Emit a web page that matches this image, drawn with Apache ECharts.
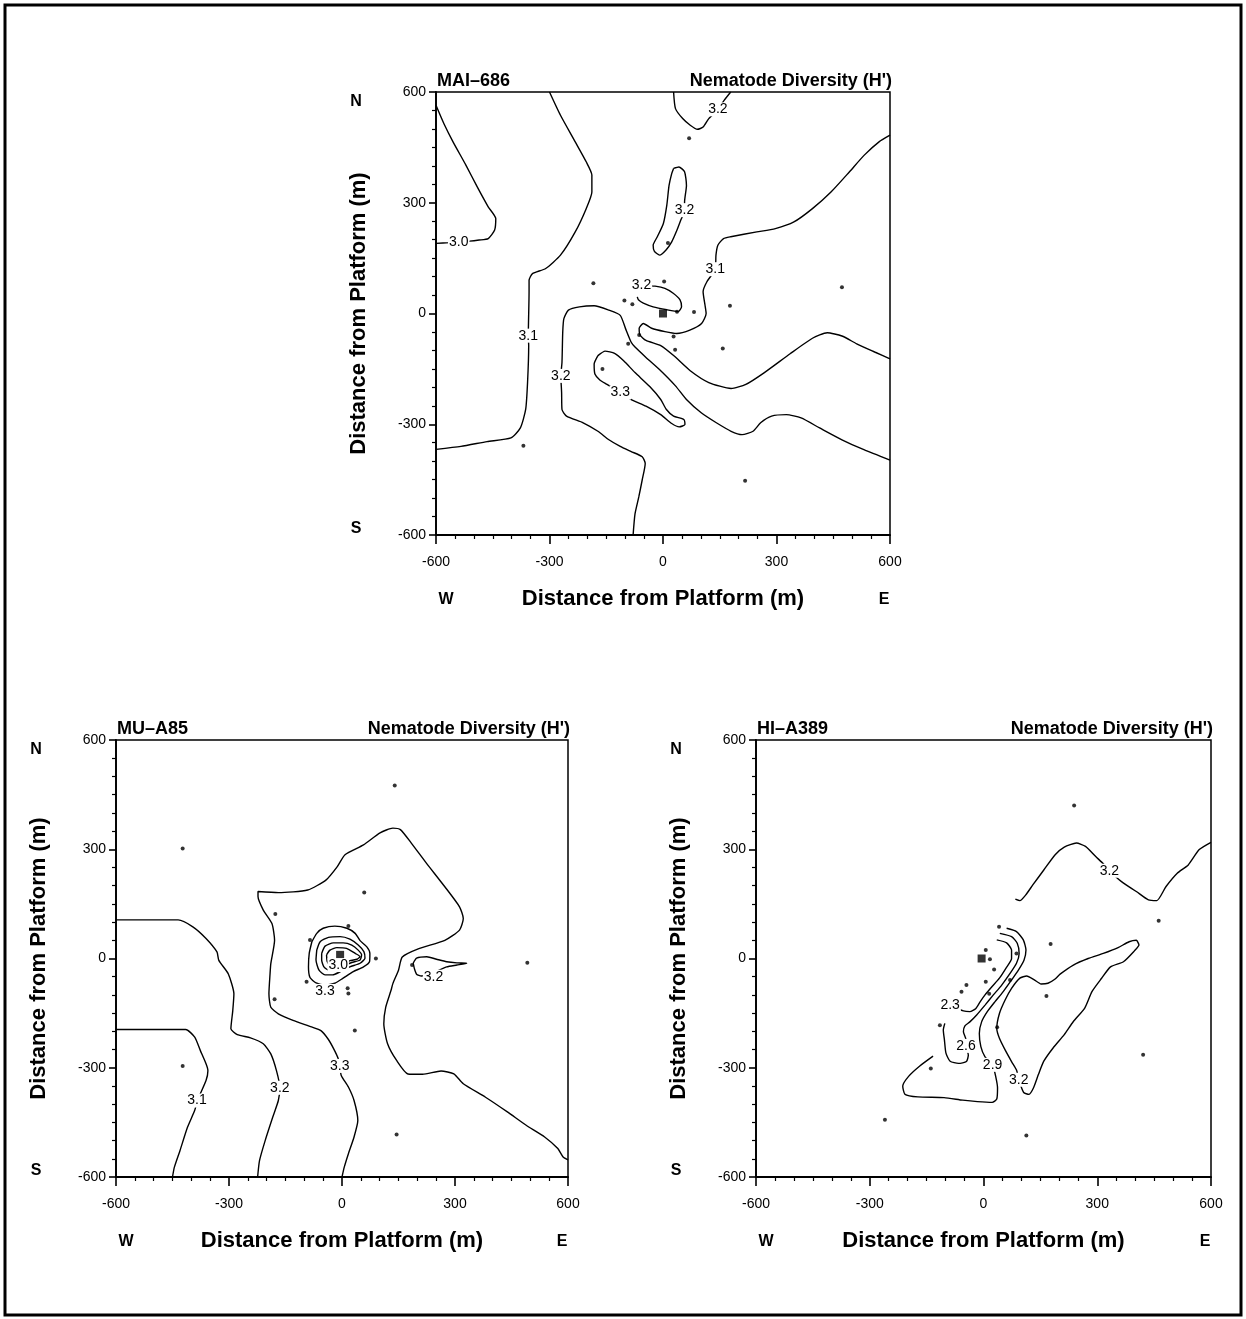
<!DOCTYPE html>
<html>
<head>
<meta charset="utf-8">
<script src="https://cdn.jsdelivr.net/npm/echarts@6/dist/echarts.min.js"></script>
<style>
  html, body { margin: 0; padding: 0; background: #fff; }
  #chart { width: 1246px; height: 1319px; }
</style>
</head>
<body>
<div id="chart"></div>
<script>
// axis ticks (m from platform)
const tickMin = -600
const tickMax = 600
const tickStep = 300

// ---- MAI-686 (top) ----
const mai30 = [[-600,564],[-579,514],[-555,465],[-521,402],[-491,343],[-462,289],[-442,257],[-445,226],[-462,203],[-486,199],[-511,196],[-565,192],[-600,190]]
const mai31West = [[-300,600],[-271,537],[-232,465],[-203,411],[-188,375],[-188,329],[-203,284],[-232,221],[-271,158],[-310,122],[-345,108],[-354,90],[-354,59],[-356,-59],[-355,-87],[-358,-187],[-363,-260],[-377,-310],[-402,-337],[-465,-347],[-534,-360],[-600,-368]]
const mai31East = [[600,483],[571,465],[532,429],[493,384],[444,329],[395,284],[346,248],[297,230],[248,221],[179,208],[160,203],[145,185],[140,158],[138,120],[116,86],[106,59],[111,23],[114,0],[102,-27],[71,-45],[36,-54],[5,-49],[-30,-40],[-52,-27],[-63,-40],[-61,-58],[-45,-73],[-6,-87],[28,-114],[72,-155],[121,-187],[180,-203],[219,-192],[268,-160],[336,-109],[395,-67],[434,-52],[473,-61],[512,-82],[561,-105],[600,-123]]
const mai32West = [[-79,-600],[-74,-543],[-64,-497],[-55,-451],[-47,-406],[-55,-388],[-84,-374],[-113,-360],[-143,-342],[-172,-319],[-211,-296],[-255,-278],[-267,-260],[-268,-214],[-270,-169],[-267,-132],[-265,-50],[-262,-14],[-250,9],[-221,18],[-182,21],[-143,9],[-113,-5],[-99,-41],[-84,-78],[-74,-91],[-45,-119],[-6,-155],[33,-196],[62,-233],[101,-269],[141,-296],[180,-319],[209,-328],[238,-319],[258,-296],[287,-278],[326,-274],[365,-283],[414,-310],[473,-342],[531,-369],[600,-397]]
const mai33 = [[-172,-114],[-182,-137],[-180,-164],[-167,-180],[-148,-192],[-113,-214],[-84,-233],[-45,-251],[-6,-274],[23,-298],[43,-307],[58,-301],[55,-287],[28,-278],[9,-260],[-6,-233],[-35,-198],[-74,-160],[-104,-128],[-128,-108],[-153,-102],[-172,-114]]
const mai32Isle = [[28,393],[42,397],[57,384],[62,347],[57,302],[57,280],[47,253],[37,226],[23,194],[8,172],[-9,158],[-23,169],[-26,185],[-15,208],[1,244],[10,293],[16,347],[23,379],[28,393]]
const mai32North = [[28,600],[33,555],[52,528],[72,510],[91,499],[106,505],[121,528],[145,553],[162,578],[179,600]]
const mai32Centre = [[-56,77],[-21,74],[5,68],[27,55],[45,37],[49,18],[40,5],[10,10],[-26,18],[-52,28],[-65,37],[-68,45]]
const maiLabels = [[-540,193,'3.0'],[-356,-60,'3.1'],[-270,-169,'3.2'],[-113,-214,'3.3'],[57,280,'3.2'],[145,553,'3.2'],[-57,77,'3.2'],[138,120,'3.1']]
const maiStations = [[69,475],[13,191],[-184,82],[3,87],[-102,35],[-81,25],[37,5],[82,4],[177,21],[473,71],[28,-62],[-63,-58],[-92,-82],[32,-98],[158,-95],[-160,-150],[-369,-358],[217,-453]]
const maiPlatform = [[0,0]]

// ---- MU-A85 (bottom left) ----
const mu31 = [[-600,-195],[-415,-195],[-391,-216],[-376,-253],[-361,-289],[-356,-308],[-361,-335],[-384,-390],[-391,-417],[-410,-463],[-430,-527],[-445,-573],[-450,-600]]
const mu32 = [[-600,106],[-435,106],[-396,87],[-361,55],[-332,18],[-327,-5],[-302,-42],[-287,-97],[-290,-143],[-295,-193],[-278,-209],[-243,-218],[-209,-234],[-189,-262],[-174,-308],[-165,-355],[-169,-390],[-184,-436],[-204,-500],[-219,-555],[-224,-600]]
const mu33 = [[0,-600],[6,-573],[17,-536],[32,-490],[42,-445],[32,-390],[17,-353],[-2,-321],[-6,-295],[-10,-275],[-22,-248],[-37,-221],[-56,-198],[-81,-188],[-130,-170],[-169,-152],[-189,-134],[-194,-97],[-191,-42],[-189,-14],[-179,50],[-186,96],[-209,133],[-223,170],[-223,184],[-169,181],[-91,188],[-42,216],[-12,253],[8,285],[57,312],[101,345],[135,358],[155,354],[184,317],[224,262],[273,197],[312,142],[322,110],[312,78],[273,50],[204,27],[160,4],[150,-32],[135,-69],[130,-88],[116,-134],[111,-179],[121,-234],[145,-280],[175,-317],[214,-318],[263,-309],[297,-317],[322,-344],[381,-381],[440,-422],[489,-458],[538,-490],[573,-522],[587,-545],[600,-553]]
const muRing1 = [[-80,46],[-67,69],[-50,83],[-19,89],[13,83],[35,69],[48,49],[66,32],[74,14],[73,-9],[57,-23],[30,-36],[3,-54],[-19,-68],[-45,-73],[-69,-67],[-85,-52],[-89,-23],[-87,14],[-80,46]]
const muRing2 = [[-67,23],[-58,46],[-36,58],[-5,60],[21,53],[43,37],[58,19],[61,1],[48,-13],[21,-23],[-4,-36],[-25,-45],[-45,-45],[-61,-32],[-69,-4],[-67,23]]
const muRing3 = [[-54,14],[-45,34],[-23,43],[3,43],[26,37],[43,23],[52,10],[48,-4],[26,-11],[3,-21],[-14,-30],[-32,-34],[-48,-23],[-54,-4],[-54,14]]
const muRing4 = [[-41,10],[-32,23],[-14,30],[12,28],[35,14],[48,5],[40,-2],[21,-6],[8,-15],[-10,-23],[-27,-23],[-39,-9],[-41,10]]
const mu32East = [[189,-13],[198,1],[225,5],[251,-2],[278,-9],[305,-12],[331,-13],[305,-18],[278,-23],[258,-32],[234,-43],[211,-48],[198,-43],[192,-27],[189,-13]]
const muLabels = [[-385,-390,'3.1'],[-165,-355,'3.2'],[-6,-295,'3.3'],[-45,-89,'3.3'],[-10,-18,'3.0'],[243,-50,'3.2']]
const muStations = [[140,475],[-423,302],[59,181],[-177,122],[17,89],[-85,51],[90,0],[186,-18],[492,-12],[-94,-64],[15,-82],[17,-96],[-179,-112],[34,-198],[-423,-295],[145,-483]]
const muPlatform = [[-5,10]]

// ---- HI-A389 (bottom right) ----
const hi32North = [[84,163],[96,159],[111,174],[130,202],[159,243],[189,285],[213,306],[245,317],[269,308],[296,280],[316,260],[332,241],[364,211],[403,184],[435,161],[457,159],[481,197],[511,234],[540,257],[569,299],[600,319]]
const hi32Loop = [[93,-333],[87,-306],[74,-283],[57,-251],[42,-219],[35,-192],[42,-151],[57,-114],[74,-82],[96,-54],[114,-48],[133,-58],[152,-70],[170,-68],[188,-57],[202,-43],[237,-18],[276,0],[316,14],[355,30],[384,46],[403,50],[410,37],[398,21],[369,-9],[335,-23],[311,-55],[286,-91],[267,-136],[237,-173],[213,-209],[184,-245],[159,-282],[145,-318],[132,-355],[120,-373],[106,-368],[93,-333]]
const hi29 = [[61,83],[87,74],[105,51],[112,23],[107,-4],[92,-32],[74,-59],[52,-91],[30,-119],[10,-146],[-5,-174],[-11,-206],[-7,-242],[4,-270],[24,-292],[32,-323],[37,-355],[35,-386],[23,-395],[-16,-393],[-55,-389],[-104,-382],[-173,-380],[-207,-373],[-213,-350],[-197,-323],[-168,-295],[-133,-268]]
const hi26 = [[43,69],[74,60],[89,42],[94,14],[87,-13],[70,-41],[48,-73],[26,-100],[4,-128],[-18,-155],[-36,-174],[-49,-185],[-53,-201],[-46,-224],[-46,-240],[-40,-265],[-45,-283],[-66,-288],[-88,-282],[-99,-260],[-103,-224],[-106,-196],[-102,-178]]
const hi23 = [[35,51],[61,43],[74,23],[74,0],[59,-27],[42,-54],[21,-79],[4,-100],[-9,-119],[-20,-137],[-36,-146],[-53,-144],[-88,-128]]
const hiLabels = [[332,241,'3.2'],[-88,-128,'2.3'],[-46,-240,'2.6'],[24,-292,'2.9'],[93,-333,'3.2']]
const hiStations = [[41,87],[6,23],[17,-2],[28,-30],[6,-64],[-45,-73],[-58,-91],[-115,-183],[87,14],[70,-59],[15,-97],[36,-189],[177,40],[166,-103],[-139,-302],[239,420],[462,104],[-260,-443],[113,-486],[421,-264]]
const hiPlatform = [[-5,0]]

const FONT = "'Liberation Sans', Arial, Helvetica, sans-serif"

const panels = [
  { name: 'MAI\u2013686', box: [436, 92, 454, 443], contours: [mai30, mai31West, mai31East, mai32West, mai33, mai32Isle, mai32North, mai32Centre], labels: maiLabels, stations: maiStations, platform: maiPlatform },
  { name: 'MU\u2013A85', box: [116, 740, 452, 437], contours: [mu31, mu32, mu33, muRing1, muRing2, muRing3, muRing4, mu32East], labels: muLabels, stations: muStations, platform: muPlatform },
  { name: 'HI\u2013A389', box: [756, 740, 455, 437], contours: [hi32North, hi32Loop, hi29, hi26, hi23], labels: hiLabels, stations: hiStations, platform: hiPlatform }
]

const grid = []
const xAxis = []
const yAxis = []
const series = []
const graphic = [{
  type: 'rect', silent: true,
  shape: { x: 5, y: 5, width: 1236, height: 1310 },
  style: { fill: 'none', stroke: '#000', lineWidth: 3 }
}]

function axisBase(gi) {
  return {
    gridIndex: gi,
    type: 'value',
    min: tickMin,
    max: tickMax,
    interval: tickStep,
    axisLine: { show: true, onZero: false, lineStyle: { color: '#000', width: 1.8 } },
    axisTick: { show: true, length: 9, lineStyle: { color: '#000', width: 1.6 } },
    minorTick: { show: true, splitNumber: 6, length: 4, lineStyle: { color: '#000', width: 1.2 } },
    splitLine: { show: false },
    axisLabel: { color: '#000', fontSize: 14, fontFamily: FONT },
    name: 'Distance from Platform (m)',
    nameLocation: 'middle',
    nameTextStyle: { color: '#000', fontSize: 22, fontWeight: 'bold', fontFamily: FONT }
  }
}

panels.forEach((p, gi) => {
  const [l, t, w, h] = p.box
  grid.push({ left: l, top: t, width: w, height: h, show: true, borderColor: '#000', borderWidth: 1.5, backgroundColor: 'transparent' })
  const xa = axisBase(gi)
  xa.axisLabel.margin = 20
  xa.nameGap = 53
  xAxis.push(xa)
  const ya = axisBase(gi)
  ya.axisLabel.margin = 10
  ya.nameGap = 66
  ya.axisTick.length = 7
  yAxis.push(ya)

  p.contours.forEach(c => {
    series.push({
      type: 'line', xAxisIndex: gi, yAxisIndex: gi, data: c,
      showSymbol: false, symbol: 'none', smooth: 0.2, silent: true,
      lineStyle: { color: '#000', width: 1.4 }, z: 2
    })
  })
  series.push({
    type: 'scatter', xAxisIndex: gi, yAxisIndex: gi, data: p.stations,
    symbol: 'circle', symbolSize: 4, itemStyle: { color: '#000' }, silent: true, z: 3
  })
  series.push({
    type: 'scatter', xAxisIndex: gi, yAxisIndex: gi, data: p.platform,
    symbol: 'rect', symbolSize: 8, itemStyle: { color: '#000' }, silent: true, z: 3
  })
  series.push({
    type: 'scatter', xAxisIndex: gi, yAxisIndex: gi,
    data: p.labels.map(d => ({ value: [d[0], d[1]], name: d[2] })),
    symbolSize: 1, itemStyle: { color: '#fff', opacity: 1 }, silent: true, z: 5,
    label: {
      show: true, position: 'inside', formatter: v => v.name,
      color: '#000', fontSize: 14, fontFamily: FONT, opacity: 1,
      textBorderWidth: 0, backgroundColor: '#fff', padding: [0, 1]
    }
  })

  const bold = 'bold 18px ' + FONT
  const letter = 'bold 16px ' + FONT
  graphic.push(
    { type: 'text', silent: true, x: l + 1, y: t - 11, style: { text: p.name, font: bold, fill: '#000', textAlign: 'left', textVerticalAlign: 'middle' } },
    { type: 'text', silent: true, x: l + w + 2, y: t - 11, style: { text: "Nematode Diversity (H')", font: bold, fill: '#000', textAlign: 'right', textVerticalAlign: 'middle' } },
    { type: 'text', silent: true, x: l - 80, y: t + 10, style: { text: 'N', font: letter, fill: '#000', textAlign: 'center', textVerticalAlign: 'middle' } },
    { type: 'text', silent: true, x: l - 80, y: h + t - 6, style: { text: 'S', font: letter, fill: '#000', textAlign: 'center', textVerticalAlign: 'middle' } },
    { type: 'text', silent: true, x: l + 10, y: t + h + 65, style: { text: 'W', font: letter, fill: '#000', textAlign: 'center', textVerticalAlign: 'middle' } },
    { type: 'text', silent: true, x: l + w - 6, y: t + h + 65, style: { text: 'E', font: letter, fill: '#000', textAlign: 'center', textVerticalAlign: 'middle' } }
  )
})

const chart = echarts.init(document.getElementById('chart'), null, { renderer: 'canvas' })
chart.setOption({
  animation: false,
  backgroundColor: '#fff',
  grid,
  xAxis,
  yAxis,
  series,
  graphic
})
</script>
</body>
</html>
